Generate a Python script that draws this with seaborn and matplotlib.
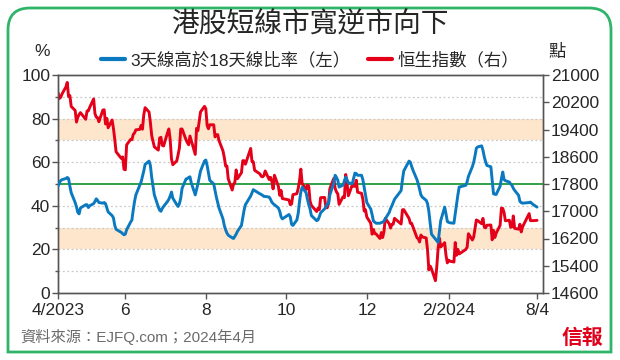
import numpy as np
import pandas as pd
import matplotlib.pyplot as plt
import matplotlib.dates as mdates
from matplotlib.path import Path
from matplotlib.patches import PathPatch
from matplotlib.lines import Line2D
import seaborn as sns

# 港股交易日（2023-04-11 至 2024-04-08，扣除假期）
start_date = '2023-04-11'
end_date = '2024-04-08'
hk_holidays = ['2023-05-01', '2023-05-26', '2023-06-22', '2023-09-01', '2023-09-08',
               '2023-09-29', '2023-10-02', '2023-10-23', '2023-12-25', '2023-12-26',
               '2024-01-01', '2024-02-12', '2024-02-13', '2024-03-29', '2024-04-01',
               '2024-04-04']

# 3天線高於18天線比率 (%)，按月
ratio_apr23 = [49, 50.5, 51.5, 52, 52.5, 53, 52.5, 49, 46, 41.5, 39.5, 37, 36.3, 39]
ratio_may23 = [40.5, 40.5, 39.2, 40, 41, 42, 43.2, 42.5, 41.5, 41.2, 41.5, 41, 39, 37.2,
               35.5, 34.5, 31, 29.2, 27.8, 27.2, 26.7]
ratio_jun23 = [27, 29, 32.5, 33.5, 38, 42, 45, 49.4, 51, 53.5, 56, 59, 60.5, 58.5, 53, 45,
               39.5, 38, 37.5, 38.8, 39.7]
ratio_jul23 = [42, 43, 44.5, 46.3, 43.5, 40.5, 39.7, 41, 43.5, 48, 52.3, 52.5, 53, 53.3, 50.5,
               45, 47.5, 50, 53, 56, 60.5]
ratio_aug23 = [61, 58.5, 55, 51.7, 50, 47, 44, 41.5, 39, 34, 31, 29, 27.5, 26.5, 25.3, 25, 26,
               27, 28.3, 31, 34.5, 38, 40.5]
ratio_sep23 = [44.5, 46, 47.4, 47, 45.5, 45.2, 44.8, 44.3, 44.3, 44, 43, 41.7, 41, 40.5, 39,
               37.5, 35, 34]
ratio_oct23 = [36, 35, 31.5, 31, 33.5, 36.5, 42, 46.3, 48.5, 46, 43, 40.5, 38.5, 35.5, 33.2,
               33.5, 35, 36.8, 38.6, 39.5]
ratio_nov23 = [40.9, 41, 45, 50.5, 54, 53, 51.7, 48.6, 49.5, 51.5, 53.2, 52, 50.5, 50.2, 52.5,
               55, 54.8, 54, 54, 52, 48.6, 45]
ratio_dec23 = [41.5, 38.5, 36, 33, 32.5, 32, 32, 32.3, 32.5, 33, 34, 37, 38.7, 40, 41.5, 43,
               47, 52, 56]
ratio_jan24 = [60.5, 60, 58, 56.3, 52, 50, 47.5, 45, 44, 42.5, 41, 37.5, 32, 27, 24.7, 24,
               23.2, 28, 33.2, 39.4, 36.3, 32.8]
ratio_feb24 = [32.4, 32.2, 32, 36.3, 40.9, 45, 48.6, 49.4, 51, 53.5, 58, 60, 63, 66.4, 67,
               67.5, 65.5, 62.5, 60.2]
ratio_mar24 = [58.5, 57.9, 51.5, 45.5, 45.3, 45.2, 49, 52.5, 55.5, 52, 51.5, 50.9, 50, 49.4,
               48, 47.1, 44.8, 42, 41.5, 41.2]
ratio_apr24 = [41.5, 41.7, 40.6, 39.4]

# 恒生指數收市 (點)，按月
hsi_apr23 = [20486, 20310, 20344, 20439, 20651, 20782, 20367, 20397, 20076, 19960, 19618,
             19758, 19841, 19895]
hsi_may23 = [19699, 19941, 19949, 20049, 20297, 19867, 19762, 19744, 19628, 19971, 19978,
             19561, 19727, 19451, 19679, 19432, 19116, 18747, 18551, 18595, 18234]
hsi_jun23 = [18216, 18950, 19109, 19099, 19253, 19299, 19390, 19405, 19521, 19408, 19829,
             20041, 19912, 19607, 19219, 18890, 18795, 19149, 19172, 18935, 18916]
hsi_jul23 = [19306, 19416, 19110, 18533, 18366, 18479, 18659, 18860, 19414, 19414, 19100,
             19015, 18952, 19209, 19075, 18668, 19434, 19365, 19639, 19917, 20079]
hsi_aug23 = [20012, 19517, 19421, 19539, 19537, 19184, 19246, 19248, 19075, 18773, 18581,
             18329, 18327, 17951, 17623, 17792, 17846, 18213, 17956, 18131, 18485, 18483, 18382]
hsi_sep23 = [18844, 18456, 18449, 18202, 18096, 18026, 18010, 18048, 18182, 17931, 17997,
             17885, 17656, 18057, 17730, 17467, 17612, 17373]
hsi_oct23 = [17331, 17195, 17213, 17486, 17517, 17664, 17893, 18238, 17813, 17640, 17774,
             17732, 17295, 17172, 16992, 17085, 17045, 17399, 17406, 17112]
hsi_nov23 = [17101, 17231, 17664, 17966, 17671, 17568, 17511, 17203, 17427, 17397, 18079,
             17833, 17454, 17779, 17733, 17734, 17911, 17559, 17526, 17355, 17008, 17043]
hsi_dec23 = [16830, 16646, 16327, 16463, 16346, 16334, 16201, 16374, 16229, 16402, 16792,
             16629, 16506, 16613, 16621, 16792, 16625, 17043, 17047]
hsi_jan24 = [16789, 16646, 16645, 16536, 16224, 16191, 16098, 16302, 16245, 16217, 15866,
             15277, 15391, 15309, 14961, 15354, 15899, 16212, 15952, 16078, 15703, 15485]
hsi_feb24 = [15566, 15533, 15510, 16082, 15708, 15879, 15747, 15879, 15944, 16340, 16156,
             16248, 16503, 16743, 16726, 16634, 16790, 16536, 16511]
hsi_mar24 = [16589, 16596, 16162, 16438, 16230, 16354, 16588, 17093, 17082, 16962, 16721,
             16737, 16529, 16544, 16863, 16499, 16473, 16618, 16392, 16541]
hsi_apr24 = [16931, 16725, 16724, 16732]

tick_dates = ['2023-04-11', '2023-06-01', '2023-08-01', '2023-10-01', '2023-12-01',
              '2024-02-01', '2024-04-08']
tick_labels = ['4/2023', '6', '8', '10', '12', '2/2024', '8/4']

ratio = (ratio_apr23 + ratio_may23 + ratio_jun23 + ratio_jul23 + ratio_aug23 + ratio_sep23 +
         ratio_oct23 + ratio_nov23 + ratio_dec23 + ratio_jan24 + ratio_feb24 + ratio_mar24 +
         ratio_apr24)
hsi = (hsi_apr23 + hsi_may23 + hsi_jun23 + hsi_jul23 + hsi_aug23 + hsi_sep23 + hsi_oct23 +
       hsi_nov23 + hsi_dec23 + hsi_jan24 + hsi_feb24 + hsi_mar24 + hsi_apr24)

dates = pd.bdate_range(start_date, end_date)
dates = dates[~dates.isin(pd.to_datetime(hk_holidays))]
df = pd.DataFrame({'date': dates, 'ratio': ratio, 'hsi': hsi})

BLUE = '#0a79c0'
RED = '#e5001a'
GREEN = '#1e9a3c'
PEACH = '#fde6cc'
AXIS = '#555555'

sns.set_style('ticks')
plt.rcParams['font.family'] = ['Liberation Sans', 'Noto Sans CJK TC', 'DejaVu Sans']

fig = plt.figure(figsize=(6.2, 3.6), dpi=100)
fig.patch.set_facecolor('white')

# 外框（上方圓角）
W, H = 620, 360
l, r, t, b, rad = 8, 611, 8, 352, 22
verts = [(l, b), (l, t + rad), (l, t), (l + rad, t), (r - rad, t), (r, t), (r, t + rad),
         (r, b), (l, b)]
codes = [Path.MOVETO, Path.LINETO, Path.CURVE3, Path.CURVE3, Path.LINETO, Path.CURVE3,
         Path.CURVE3, Path.LINETO, Path.CLOSEPOLY]
verts = [(x / W, 1 - y / H) for x, y in verts]
fig.patches.append(PathPatch(Path(verts, codes), transform=fig.transFigure,
                             facecolor='none', edgecolor='#2fb56a', lw=2))

ax = fig.add_axes([58 / W, 1 - 293 / H, 485 / W, 218 / H])
ax2 = ax.twinx()
ax3 = ax.twinx()

# 背景：色帶、虛線格、50%綠線
for lo, hi in [(20, 30), (70, 80)]:
    ax.axhspan(lo, hi, color=PEACH, lw=0, zorder=0)
for g in [10, 20, 30, 40, 60, 70, 80, 90]:
    ax.axhline(g, color='#c9c9c9', lw=0.9, ls=(0, (1.5, 2)), zorder=1)
ax.axhline(50, color=GREEN, lw=1.3, zorder=2)

sns.lineplot(data=df, x='date', y='hsi', ax=ax2, color=RED, lw=2.1)
sns.lineplot(data=df, x='date', y='ratio', ax=ax3, color=BLUE, lw=2.1)

xmin = pd.Timestamp('2023-04-11')
xmax = pd.Timestamp('2024-04-12 12:00')
for a in (ax, ax2, ax3):
    a.set_xlim(xmin, xmax)
    a.set_xlabel('')
    a.set_ylabel('')

ax.set_ylim(0, 100)
ax3.set_ylim(0, 100)
ax2.set_ylim(14600, 21000)

ax.set_yticks(range(0, 101, 20))
ax.set_yticks(range(10, 100, 20), minor=True)
ax2.set_yticks(range(14600, 21001, 800))
ax3.set_yticks([])
ax3.axis('off')

ax.set_xticks(pd.to_datetime(tick_dates))
ax.set_xticklabels(tick_labels)

for a in (ax, ax2):
    for s in a.spines.values():
        s.set_color(AXIS)
        s.set_linewidth(1)
    a.tick_params(axis='both', which='major', labelsize=12.5, length=4, width=1,
                  color=AXIS, pad=1.5)
    a.tick_params(axis='y', which='minor', length=2.5, width=1, color=AXIS)
ax.tick_params(axis='x', pad=3.5)

fig.text(0.5, 1 - 24.5 / H, '港股短線市寬逆市向下', ha='center', va='center', fontsize=20,
         fontweight='medium', family=['Noto Sans CJK TC'])
fig.text(42 / W, 1 - 52 / H, '%', ha='center', va='center', fontsize=12.5)
fig.text(557 / W, 1 - 52 / H, '點', ha='center', va='center', fontsize=12.5,
         family=['Noto Sans CJK TC'])

handles = [Line2D([], [], color=BLUE, lw=3), Line2D([], [], color=RED, lw=3)]
fig.legend(handles, ['3天線高於18天線比率（左）', '恒生指數（右）'], loc='center',
           bbox_to_anchor=(0.5, 1 - 60 / H), ncol=2, frameon=False, fontsize=12.5,
           handlelength=1.4, handletextpad=0.3, columnspacing=1.0)

fig.text(20 / W, 1 - 337 / H, '資料來源：EJFQ.com；2024年4月', ha='left', va='center',
         fontsize=11, color='#6b6b6b')
fig.text(582 / W, 1 - 337 / H, '信報', ha='center', va='center', fontsize=15,
         color='#e0001b', fontweight='bold', family=['Noto Sans CJK TC'])

fig.savefig('out.png', dpi=100)
